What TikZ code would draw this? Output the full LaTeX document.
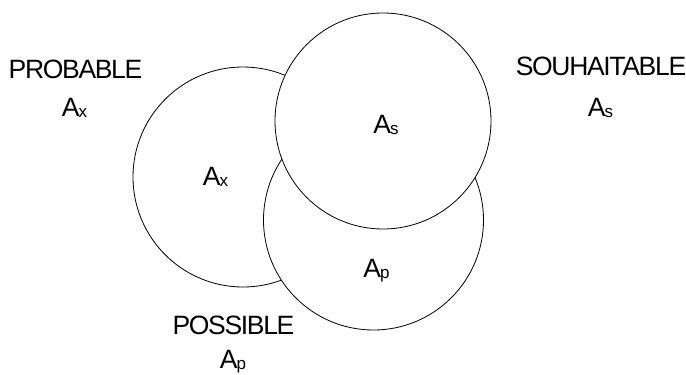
\documentclass[tikz,border=0pt]{standalone}
\usepackage{fontspec}
\setmainfont{Liberation Sans}[LetterSpace=-5]
\newcommand\subl[1]{\kern-1pt\raisebox{-1.5pt}{\fontsize{17}{17}\selectfont #1}}
\begin{document}
\begin{tikzpicture}[x=1pt,y=-1pt,
  setc/.style={circle,draw=black,line width=0.8pt,fill=white,minimum size=#1,inner sep=0pt},
  lab/.style={font=\fontsize{26.5}{28}\selectfont,inner sep=0pt,anchor=base}]
\useasboundingbox (0,0) rectangle (686,375);
% circles (drawing order gives the overlaps)
\node[setc=220pt] (cx) at (243,177) {};
\node[setc=220pt] (cp) at (373.5,220) {};
\node[setc=216pt] (cs) at (383,121) {};
% labels inside circles
\node[lab] (ix) at (215.5,185) {A\subl{x}};
\node[lab] (is) at (386,133) {A\subl{s}};
\node[lab] (ip) at (376.5,277) {A\subl{p}};
% outer captions
\node[lab] (tprob) at (75.5,78) {PROBABLE};
\node[lab] (tprobA) at (74.5,116) {A\subl{x}};
\node[lab] (tsouh) at (601,75) {SOUHAITABLE};
\node[lab] (tsouhA) at (600.5,116) {A\subl{s}};
\node[lab] (tposs) at (233.5,334) {POSSIBLE};
\node[lab] (tpossA) at (233,368) {A\subl{p}};
\end{tikzpicture}
\end{document}
